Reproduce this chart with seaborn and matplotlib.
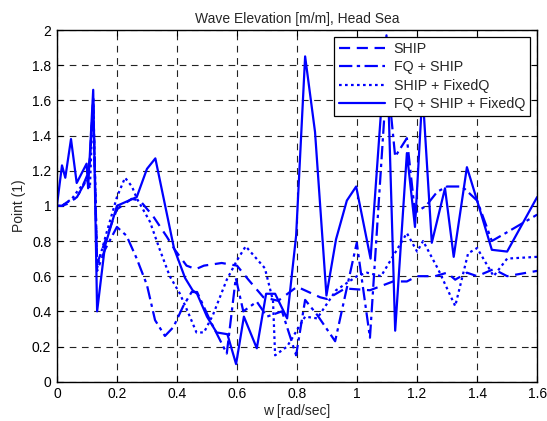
import matplotlib
matplotlib.use("Agg")
import matplotlib.pyplot as plt
import seaborn as sns
import pandas as pd

# ---- data ----
ship_w = [0, 0.017, 0.033, 0.05, 0.067, 0.083, 0.1, 0.11, 0.121, 0.134, 0.166, 0.2, 0.249, 0.277,
          0.321, 0.366, 0.393, 0.432, 0.463, 0.49, 0.549, 0.6, 0.638, 0.688, 0.737, 0.8, 0.877,
          0.9, 0.96, 1.043, 1.12, 1.166, 1.2, 1.26, 1.3, 1.327, 1.366, 1.4, 1.455, 1.5, 1.6]
ship_v = [1.0, 1.0, 1.01, 1.03, 1.05, 1.1, 1.17, 1.27, 1.6, 0.67, 0.825, 0.98, 1.04, 1.03,
          0.94, 0.825, 0.75, 0.66, 0.64, 0.66, 0.675, 0.66, 0.58, 0.48, 0.46, 0.54, 0.48,
          0.47, 0.53, 0.52, 0.57, 0.57, 0.6, 0.6, 0.62, 0.58, 0.62, 0.6, 0.64, 0.6, 0.63]

fq_ship_w = [0, 0.017, 0.033, 0.05, 0.067, 0.083, 0.1, 0.11, 0.121, 0.134, 0.16, 0.2, 0.232, 0.266,
             0.3, 0.327, 0.36, 0.388, 0.421, 0.449, 0.467, 0.51, 0.566, 0.596, 0.621, 0.666,
             0.7, 0.75, 0.797, 0.827, 0.867, 0.927, 0.999, 1.043, 1.1, 1.127, 1.166, 1.193,
             1.23, 1.267, 1.3, 1.35, 1.4, 1.449, 1.5, 1.6]
fq_ship_v = [1.0, 1.0, 1.02, 1.03, 1.05, 1.1, 1.15, 1.25, 1.6, 0.63, 0.75, 0.88, 0.83, 0.7,
             0.55, 0.35, 0.26, 0.31, 0.43, 0.51, 0.51, 0.35, 0.16, 0.59, 0.4, 0.455,
             0.37, 0.4, 0.15, 0.465, 0.38, 0.23, 0.79, 0.25, 1.75, 1.28, 1.385, 0.96,
             1.0, 1.08, 1.11, 1.11, 1.03, 0.8, 0.85, 0.95]

ship_fq_w = [0, 0.017, 0.033, 0.05, 0.067, 0.1, 0.11, 0.121, 0.134, 0.166, 0.2, 0.227, 0.25, 0.267,
             0.31, 0.343, 0.376, 0.41, 0.443, 0.465, 0.49, 0.52, 0.566, 0.6, 0.629, 0.693,
             0.72, 0.727, 0.767, 0.827, 0.867, 0.93, 1.0, 1.033, 1.08, 1.166, 1.2, 1.22,
             1.27, 1.327, 1.37, 1.4, 1.455, 1.5, 1.6]
ship_fq_v = [1.0, 1.0, 1.02, 1.04, 1.08, 1.15, 1.1, 1.62, 0.65, 0.85, 1.05, 1.16, 1.11, 1.04,
             0.91, 0.75, 0.6, 0.5, 0.37, 0.28, 0.28, 0.38, 0.58, 0.69, 0.77, 0.645,
             0.46, 0.15, 0.2, 0.37, 0.36, 0.52, 0.6, 0.62, 0.6, 0.845, 0.74, 0.8,
             0.64, 0.43, 0.73, 0.76, 0.6, 0.7, 0.71]

all_w = [0, 0.017, 0.028, 0.047, 0.066, 0.099, 0.104, 0.121, 0.134, 0.16, 0.2, 0.266, 0.3, 0.328,
         0.39, 0.427, 0.452, 0.467, 0.5, 0.532, 0.568, 0.597, 0.623, 0.666, 0.697, 0.727,
         0.767, 0.797, 0.827, 0.86, 0.898, 0.93, 0.966, 0.997, 1.045, 1.098, 1.127, 1.166,
         1.193, 1.218, 1.249, 1.293, 1.322, 1.366, 1.4, 1.449, 1.5, 1.6]
all_v = [1.0, 1.23, 1.16, 1.38, 1.13, 1.24, 1.1, 1.66, 0.4, 0.77, 1.0, 1.05, 1.21, 1.27,
         0.76, 0.59, 0.52, 0.5, 0.37, 0.28, 0.27, 0.1, 0.37, 0.19, 0.5, 0.5,
         0.36, 0.83, 1.85, 1.42, 0.49, 0.81, 1.03, 1.11, 0.7, 1.97, 0.29, 1.3,
         0.88, 1.65, 0.79, 1.1, 0.71, 1.22, 1.03, 0.75, 0.74, 1.05]

labels = ["SHIP", "FQ + SHIP", "SHIP + FixedQ", "FQ + SHIP + FixedQ"]
series = [(ship_w, ship_v), (fq_ship_w, fq_ship_v), (ship_fq_w, ship_fq_v), (all_w, all_v)]
styles = [(0, (5, 3)), (0, (6, 2, 1.5, 2)), (0, (1.2, 1.5)), "-"]

x_ticks = [0, 0.2, 0.4, 0.6, 0.8, 1, 1.2, 1.4, 1.6]
x_tick_labels = ["0", "0.2", "0.4", "0.6", "0.8", "1", "1.2", "1.4", "1.6"]
y_ticks = [0, 0.2, 0.4, 0.6, 0.8, 1, 1.2, 1.4, 1.6, 1.8, 2]
y_tick_labels = ["0", "0.2", "0.4", "0.6", "0.8", "1", "1.2", "1.4", "1.6", "1.8", "2"]

sns.set_style("white")
plt.rcParams["font.family"] = ["Liberation Sans", "DejaVu Sans"]

fig = plt.figure(figsize=(5.47, 4.21), dpi=100)
ax = fig.add_axes([0.104, 0.0934, 0.878, 0.8353])

for (w, v), lab, ls in zip(series, labels, styles):
    df = pd.DataFrame({"w": w, "v": v})
    sns.lineplot(data=df, x="w", y="v", sort=False, ax=ax, color=(0, 0, 1),
                 linewidth=1.6, linestyle=ls, label=lab, estimator=None)

ax.set_xlim(0, 1.6)
ax.set_ylim(0, 2)
ax.set_xticks(x_ticks)
ax.set_xticklabels(x_tick_labels)
ax.set_yticks(y_ticks)
ax.set_yticklabels(y_tick_labels)
ax.tick_params(direction="in", length=4, labelsize=10, colors="black", pad=4,
               top=True, right=True, bottom=True, left=True)
ax.grid(True, color="#222222", linestyle=(0, (6, 5)), linewidth=0.8)
for s in ax.spines.values():
    s.set_color("black")
    s.set_linewidth(1.0)

ax.set_title("Wave Elevation [m/m], Head Sea", fontsize=10, pad=5)
ax.set_xlabel("w [rad/sec]", fontsize=10, labelpad=2)
ax.set_ylabel("Point (1)", fontsize=10, labelpad=4)

leg = ax.legend(loc="upper right", fontsize=10.3, frameon=True, fancybox=False,
                framealpha=1, edgecolor="black", borderaxespad=0.5,
                handlelength=3.2, handletextpad=0.6, labelspacing=0.3, borderpad=0.35)
leg.get_frame().set_linewidth(0.9)

fig.savefig("out.png", dpi=100)
